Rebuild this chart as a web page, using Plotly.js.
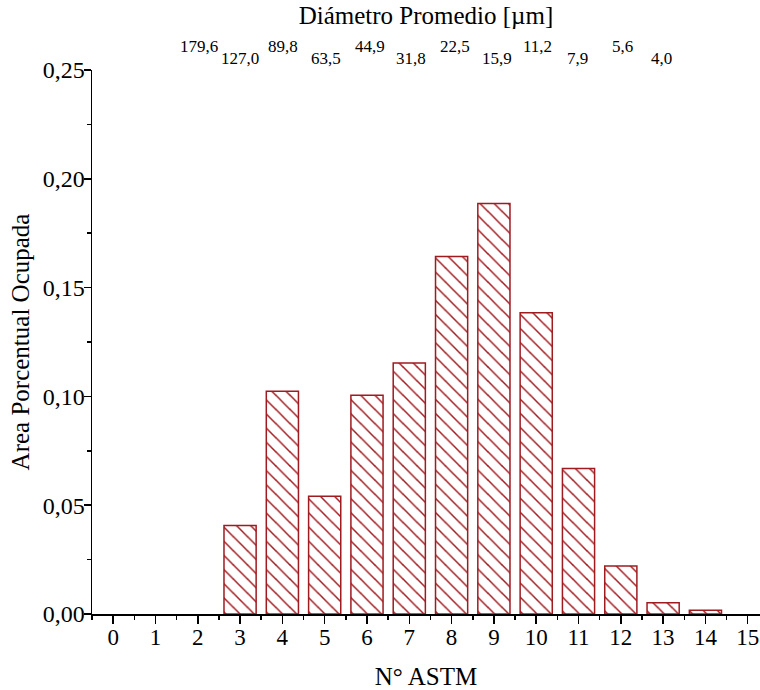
<!DOCTYPE html>
<html>
<head>
<meta charset="utf-8">
<script src="https://cdn.plot.ly/plotly-3.0.1.min.js"></script>
<style>html,body{margin:0;padding:0;background:#fff;}</style>
</head>
<body>
<div id="chart" style="width:760px;height:690px;"></div>
<script>
// ASTM grain-size numbers and the area fraction occupied by each
var astmNumbers = [3, 4, 5, 6, 7, 8, 9, 10, 11, 12, 13, 14];
var areaFraction = [0.0407, 0.1024, 0.0541, 0.1005, 0.1153, 0.1643, 0.1887, 0.1384, 0.0669, 0.0221, 0.0052, 0.0017];
// Top-axis labels: mean diameter [µm] and the ASTM position they sit over
var diameterLabels = ["179,6", "127,0", "89,8", "63,5", "44,9", "31,8", "22,5", "15,9", "11,2", "7,9", "5,6", "4,0"];
var diameterAt = [2.03, 3.0, 4.02, 5.02, 6.06, 7.05, 8.09, 9.08, 10.03, 10.98, 12.04, 12.96];

var red = '#a01b20';
var fontFam = '"Liberation Serif", "Times New Roman", serif';
var xr = [-0.5, 15.29];

var traces = [{
  type: 'bar',
  x: astmNumbers,
  y: areaFraction,
  width: 0.76,
  marker: {
    color: '#ffffff',
    line: {color: red, width: 1.5},
    pattern: {shape: '\\', fgcolor: red, bgcolor: '#ffffff', size: 10, solidity: 0.15, fillmode: 'replace'}
  },
  hoverinfo: 'x+y',
  showlegend: false
}];

var annotations = diameterLabels.map(function (t, i) {
  return {
    text: t, x: diameterAt[i], xref: 'x', y: 1, yref: 'paper',
    xanchor: 'center', yanchor: 'bottom', showarrow: false,
    yshift: (i % 2 === 0) ? 12 : 0,
    font: {family: fontFam, size: 17, color: '#000'}
  };
});

var layout = {
  width: 760, height: 690,
  margin: {l: 92, r: 0, t: 70, b: 76},
  paper_bgcolor: '#fff', plot_bgcolor: '#fff',
  separators: ',.',
  font: {family: fontFam, color: '#000'},
  showlegend: false,
  title: {text: 'Diámetro Promedio [µm]', font: {family: fontFam, size: 25, color: '#000'},
          x: 0.5, xref: 'paper', xanchor: 'center', y: 1, yref: 'container', yanchor: 'top', pad: {t: 6}},
  xaxis: {
    range: xr, dtick: 1, tick0: 0, showgrid: false, zeroline: false,
    showline: true, linecolor: '#000', linewidth: 1.5,
    ticks: 'outside', ticklen: 8, tickwidth: 1.5, tickcolor: '#000',
    minor: {ticks: 'outside', dtick: 0.5, ticklen: 4, tickwidth: 1.5, tickcolor: '#000'},
    tickfont: {family: fontFam, size: 23, color: '#000'},
    ticklabelstandoff: -6,
    title: {text: 'N° ASTM', font: {family: fontFam, size: 25, color: '#000'}, standoff: 22}
  },
  xaxis2: {
    overlaying: 'x', side: 'top', anchor: 'y', range: xr, dtick: 1, tick0: 0,
    showgrid: false, zeroline: false, showticklabels: false,
    showline: true, linecolor: '#000', linewidth: 1.5,
    ticks: 'inside', ticklen: 8, tickwidth: 1.5, tickcolor: '#000'
  },
  yaxis: {
    range: [0, 0.25], dtick: 0.05, tick0: 0, tickformat: '.2f',
    showgrid: false, zeroline: false,
    showline: true, linecolor: '#000', linewidth: 1.5,
    ticks: 'outside', ticklen: 7, tickwidth: 1.5, tickcolor: '#000',
    minor: {ticks: 'outside', dtick: 0.025, ticklen: 4, tickwidth: 1.5, tickcolor: '#000'},
    tickfont: {family: fontFam, size: 24, color: '#000'},
    ticklabelstandoff: -6,
    title: {text: 'Area Porcentual Ocupada', font: {family: fontFam, size: 25, color: '#000'}, standoff: 6}
  },
  annotations: annotations
};

Plotly.newPlot('chart', traces, layout, {displayModeBar: false, staticPlot: true});
</script>
</body>
</html>
